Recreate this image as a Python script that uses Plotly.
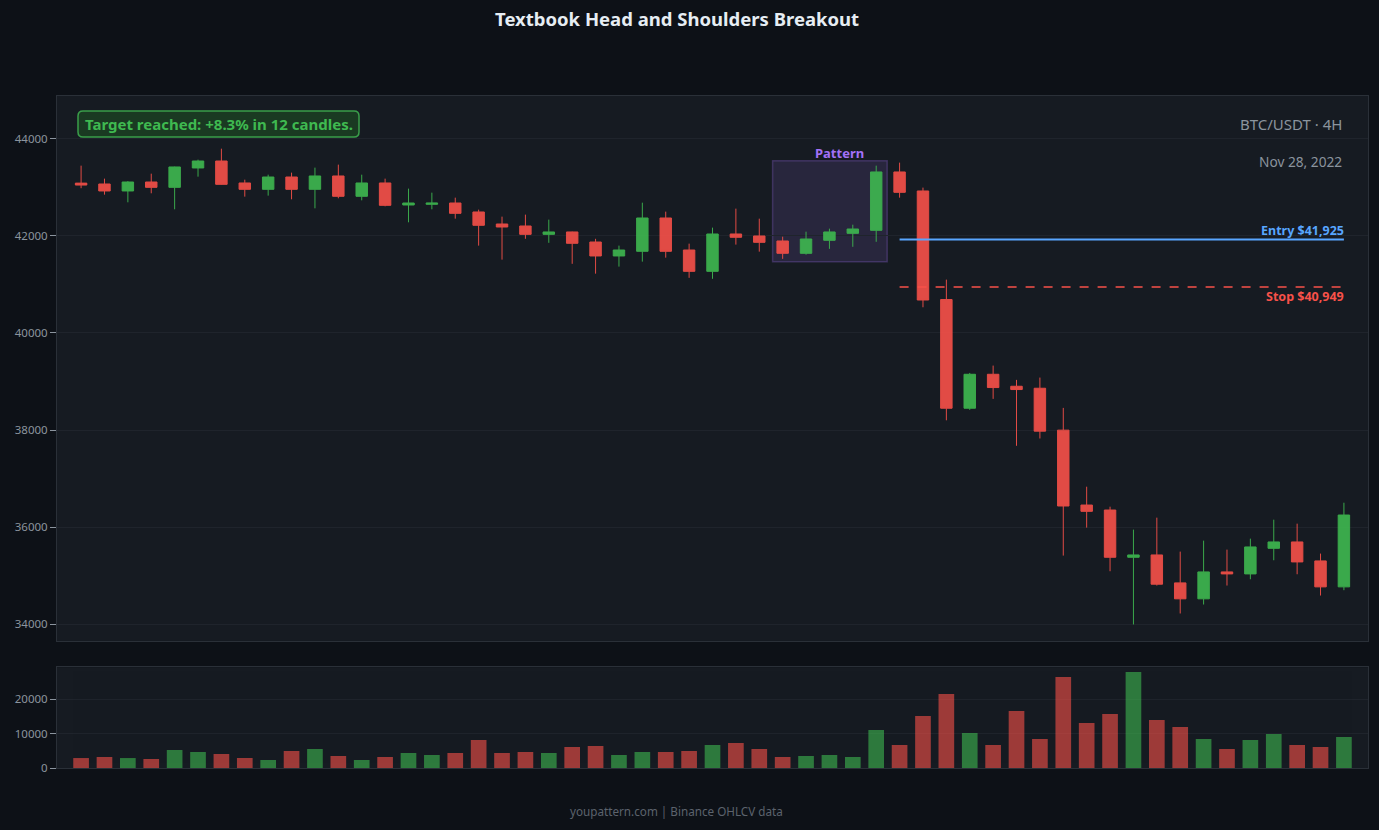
import plotly.graph_objects as go

# ---------------- data ----------------
opens = [43090, 43072, 42928, 43113, 43003, 43402, 43546, 43093, 42962, 43216,
         42962, 43237, 42818, 43093, 42639, 42653, 42680, 42495, 42247, 42206,
         42034, 42083, 41876, 41588, 41684, 42371, 41711, 41271, 42041, 42000,
         41897, 41643, 41911, 42055, 42117, 43320, 42928, 40690, 38449, 39149,
         38902, 38861, 37997, 36453, 36350, 35376, 35424, 34848, 34519, 35074,
         35033, 35561, 35692, 35301, 34766]
highs = [43450, 43182, 43130, 43285, 43430, 43574, 43800, 43161, 43264, 43306,
         43409, 43471, 43264, 43182, 42976, 42893, 42790, 42543, 42399, 42440,
         42337, 42090, 41942, 41801, 42687, 42502, 41842, 42172, 42564, 42357,
         41986, 42089, 42151, 42233, 43450, 43512, 42997, 41100, 39177, 39328,
         39033, 39081, 38456, 36831, 36419, 35946, 36193, 35493, 35719, 35534,
         35760, 36151, 36069, 35452, 36501]
lows = [42985, 42852, 42694, 42880, 42550, 43223, 43060, 42811, 42832, 42756,
        42570, 42777, 42735, 42612, 42282, 42550, 42357, 41801, 41512, 41942,
        41859, 41426, 41223, 41368, 41471, 41553, 41137, 41117, 41822, 41677,
        41529, 41615, 41735, 41777, 41880, 42790, 40530, 38200, 38415, 38642,
        37674, 37825, 35411, 35987, 35088, 33991, 34793, 34217, 34402, 34793,
        34923, 35314, 35026, 34587, 34697]
closes = [43050, 42928, 43113, 43003, 43423, 43546, 43065, 42962, 43216, 42962,
          43237, 42818, 43093, 42632, 42680, 42680, 42467, 42220, 42185, 42034,
          42083, 41849, 41588, 41711, 42371, 41684, 41271, 42041, 41973, 41869,
          41643, 41938, 42083, 42144, 43320, 42900, 40680, 38449, 39149, 38875,
          38834, 37976, 36433, 36323, 35376, 35424, 34821, 34519, 35074, 35033,
          35589, 35692, 35280, 34766, 36247]
volumes = [2900, 3200, 2900, 2620, 5240, 4660, 4080, 2910, 2330, 4950,
           5530, 3500, 2330, 3200, 4370, 3790, 4370, 8160, 4370, 4660,
           4370, 6120, 6410, 3790, 4660, 4660, 4950, 6700, 7280, 5530,
           3200, 3500, 3790, 3200, 11070, 6700, 15150, 21560, 10200, 6700,
           16600, 8450, 26510, 13110, 15730, 27970, 13980, 11940, 8450, 5530,
           8160, 9900, 6700, 6120, 9030]
candle_index = list(range(len(opens)))

pattern_start, pattern_end = 30, 34
pattern_low, pattern_high = 41470, 43553
entry_price = 41925
stop_price = 40949
entry_from = 35

title_text = "Textbook Head and Shoulders Breakout"
target_text = "Target reached: +8.3% in 12 candles."
symbol_text = "BTC/USDT · 4H"
date_text = "Nov 28, 2022"
footer_text = "youpattern.com | Binance OHLCV data"

# ---------------- style ----------------
PAPER = "#0d1117"
PLOT = "#161b22"
GRID = "#1f242c"
AXLINE = "#2a3038"
MUTED = "#8b949e"
GREEN = "#3fb950"
RED = "#f85149"
BLUE = "#58a6ff"
PURPLE = "#a371f7"
FONT = "Noto Sans, Open Sans, sans-serif"

W, H = 1379, 830
ML, MR, MT, MB = 57, 11, 96, 62
PW, PH = W - ML - MR, H - MT - MB

vol_colors = [GREEN if c >= o else RED for o, c in zip(opens, closes)]

fig = go.Figure()
fig.add_trace(go.Candlestick(
    x=candle_index, open=opens, high=highs, low=lows, close=closes,
    increasing=dict(line=dict(color=GREEN, width=1), fillcolor=GREEN),
    decreasing=dict(line=dict(color=RED, width=1), fillcolor=RED),
    whiskerwidth=0, opacity=0.9, showlegend=False, hoverinfo="skip",
    xaxis="x", yaxis="y",
))
fig.add_trace(go.Bar(
    x=candle_index, y=volumes, marker=dict(color=vol_colors, line=dict(width=0)),
    opacity=0.6, width=0.67, showlegend=False, hoverinfo="skip",
    xaxis="x2", yaxis="y2",
))

xr = [-1.03, len(opens) - 1 + 1.03]
fig.update_layout(
    width=W, height=H,
    paper_bgcolor=PAPER, plot_bgcolor=PLOT,
    margin=dict(l=ML, r=MR, t=MT, b=MB),
    font=dict(family=FONT, color=MUTED, size=11),
    title=dict(text="<b>" + title_text + "</b>", x=0.491, xanchor="center",
               y=1 - 20 / H, yanchor="middle", yref="container",
               font=dict(size=18.5, color="#e6edf3", family=FONT)),
    xaxis=dict(domain=[0, 1], anchor="y", range=xr, showticklabels=False,
               showgrid=False, zeroline=False, showline=True, mirror=True,
               linecolor=AXLINE, rangeslider=dict(visible=False), ticks=""),
    yaxis=dict(domain=[0.189, 1], anchor="x", range=[33650, 44886],
               tickvals=[34000, 36000, 38000, 40000, 42000, 44000],
               tickformat="d", gridcolor=GRID, zeroline=False, showline=True,
               mirror=True, linecolor=AXLINE, ticks="outside", ticklen=6,
               tickcolor=MUTED, tickfont=dict(size=11.5, color=MUTED)),
    xaxis2=dict(domain=[0, 1], anchor="y2", range=xr, matches="x",
                showticklabels=False, showgrid=False, zeroline=False,
                showline=True, mirror=True, linecolor=AXLINE, ticks=""),
    yaxis2=dict(domain=[0, 0.150], anchor="x2", range=[0, max(volumes) * 1.05],
                tickvals=[0, 10000, 20000], tickformat="d", gridcolor=GRID,
                zeroline=False, showline=True, mirror=True, linecolor=AXLINE,
                ticks="outside", ticklen=6, tickcolor=MUTED,
                tickfont=dict(size=11.5, color=MUTED)),
)

# pattern box
fig.add_shape(type="rect", xref="x", yref="y",
              x0=pattern_start - 0.43, x1=pattern_end + 0.47,
              y0=pattern_low, y1=pattern_high,
              fillcolor="rgba(163,113,247,0.13)",
              line=dict(color="rgba(163,113,247,0.25)", width=1.5), layer="below")
fig.add_annotation(x=(pattern_start + pattern_end) / 2 + 0.45, y=pattern_high,
                   xref="x", yref="y", text="<b>Pattern</b>", showarrow=False,
                   yanchor="bottom", yshift=-3, font=dict(size=13, color=PURPLE))

# entry / stop lines
last = len(opens) - 1
fig.add_shape(type="line", xref="x", yref="y", x0=entry_from, x1=last,
              y0=entry_price, y1=entry_price, line=dict(color=BLUE, width=2))
fig.add_shape(type="line", xref="x", yref="y", x0=entry_from, x1=last,
              y0=stop_price, y1=stop_price, line=dict(color=RED, width=1.5, dash="dash"))
fig.add_annotation(x=last, y=entry_price, xref="x", yref="y",
                   text=f"<b>Entry ${entry_price:,}</b>", showarrow=False,
                   xanchor="right", yanchor="bottom", yshift=-1, xshift=2,
                   font=dict(size=12.5, color=BLUE))
fig.add_annotation(x=last, y=stop_price, xref="x", yref="y",
                   text=f"<b>Stop ${stop_price:,}</b>", showarrow=False,
                   xanchor="right", yanchor="top", yshift=1, xshift=2,
                   font=dict(size=12.5, color=RED))

# target box with rounded corners (paper coordinates)
bx0, bx1 = (78 - ML) / PW, (359 - ML) / PW
by1, by0 = 1 - (111 - MT) / PH, 1 - (137 - MT) / PH
rx, ry = 5 / PW, 5 / PH
path = (f"M {bx0+rx},{by1} L {bx1-rx},{by1} Q {bx1},{by1} {bx1},{by1-ry} "
        f"L {bx1},{by0+ry} Q {bx1},{by0} {bx1-rx},{by0} L {bx0+rx},{by0} "
        f"Q {bx0},{by0} {bx0},{by0+ry} L {bx0},{by1-ry} Q {bx0},{by1} {bx0+rx},{by1} Z")
fig.add_shape(type="path", xref="paper", yref="paper", path=path,
              fillcolor="#1a3a22", line=dict(color="#3a9e4a", width=1.5))
fig.add_annotation(x=(bx0 + bx1) / 2, y=(by0 + by1) / 2, xref="paper", yref="paper",
                   text="<b>" + target_text + "</b>", showarrow=False,
                   xanchor="center", yanchor="middle",
                   font=dict(size=15, color=GREEN))

fig.add_annotation(x=(1344 - ML) / PW, y=1 - (124 - MT) / PH, xref="paper", yref="paper",
                   text=symbol_text, showarrow=False, xanchor="right",
                   yanchor="middle", font=dict(size=15, color=MUTED))
fig.add_annotation(x=(1344 - ML) / PW, y=1 - (161 - MT) / PH, xref="paper", yref="paper",
                   text=date_text, showarrow=False, xanchor="right",
                   yanchor="middle", font=dict(size=13.7, color=MUTED))
fig.add_annotation(x=(676 - ML) / PW, y=-(811 - (H - MB)) / PH, xref="paper", yref="paper",
                   text=footer_text, showarrow=False, xanchor="center",
                   yanchor="middle", font=dict(size=11.7, color="#5c636d"))

fig.write_html("out.html")
